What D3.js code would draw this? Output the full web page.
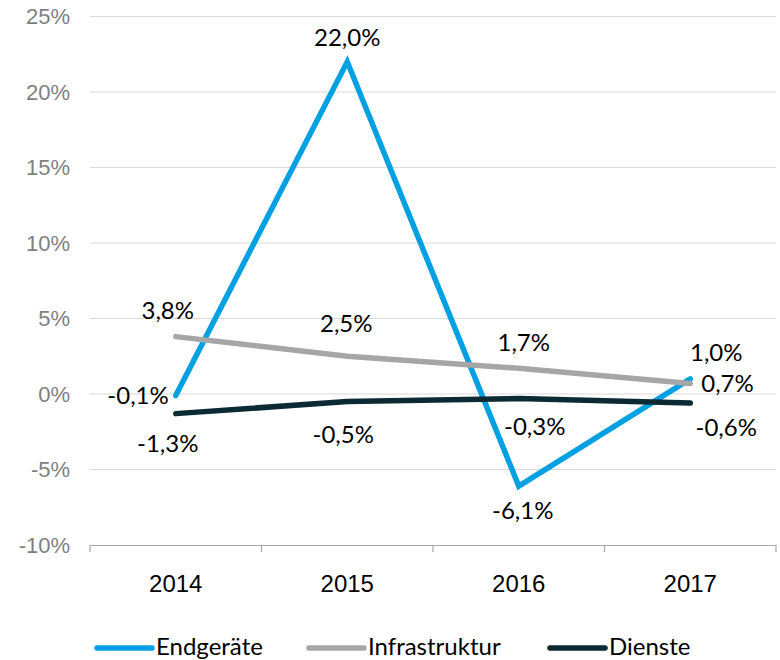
<!DOCTYPE html>
<html>
<head>
<meta charset="utf-8">
<script src="https://cdn.jsdelivr.net/npm/d3@7"></script>
<style>
  body { margin:0; background:#fff; }
  svg { display:block; font-family: Lato, "Open Sans", sans-serif; }
</style>
</head>
<body>
<div id="chart"></div>
<script>
// categories + series values (percent)
const years = ['2014','2015','2016','2017'];
const endgeraete = [-0.1, 22.0, -6.1, 1.0];
const infrastruktur = [3.8, 2.5, 1.7, 0.7];
const dienste = [-1.3, -0.5, -0.3, -0.6];
const yTicks = [-10, -5, 0, 5, 10, 15, 20, 25];

// label placement (dx, dy from point), kept apart from the values
const labelNudge = {
  Endgeraete: [[-7,0,'end'], [0,-24,'middle'], [4,24,'middle'], [26,-27,'middle']],
  Infrastruktur: [[-8,-26,'middle'], [-1,-33,'middle'], [5,-26,'middle'], [11,0,'start']],
  Dienste: [[-8,30,'middle'], [-4,33,'middle'], [16,28,'middle'], [36,24,'middle']]
};

const series = [
  {key:'Endgeraete', name:'Endgeräte', values:endgeraete, color:'#00a0e3'},
  {key:'Infrastruktur', name:'Infrastruktur', values:infrastruktur, color:'#a6a6a6'},
  {key:'Dienste', name:'Dienste', values:dienste, color:'#0b2a33'}
];

const W = 780, H = 660;
const m = {left:90, right:4, top:16.5, bottom:115};
const svg = d3.select('#chart').append('svg').attr('width',W).attr('height',H);

const x = d3.scaleBand().domain(years).range([m.left, W-m.right]);
const y = d3.scaleLinear().domain([-10,25]).range([H-m.bottom, m.top]);
// German decimal comma, plain hyphen as minus (like the original)
const fmt = v => v.toFixed(1).replace('.',',')+'%';

// gridlines
svg.append('g').selectAll('line').data(yTicks.filter(t=>t>-10)).enter().append('line')
  .attr('x1', m.left).attr('x2', W-m.right)
  .attr('y1', d=>y(d)).attr('y2', d=>y(d))
  .attr('stroke','#d9d9d9').attr('stroke-width',1.2);

// y axis labels
const yAxis = svg.append('g').attr('transform',`translate(${m.left},0)`)
  .call(d3.axisLeft(y).tickValues(yTicks).tickSize(0).tickPadding(20).tickFormat(d=>d+'%'));
yAxis.select('.domain').remove();
yAxis.selectAll('text').attr('fill','#7f7f7f').style('font-size','22px');

// x axis
const xAxis = svg.append('g').attr('transform',`translate(0,${y(-10)})`)
  .call(d3.axisBottom(x).tickSize(0).tickPadding(30));
xAxis.select('.domain').attr('stroke','#a6a6a6').attr('stroke-width',1.2);
xAxis.selectAll('text').attr('fill','#000').style('font-size','24px');
const bounds = years.map(d=>x(d)).concat([x(years[years.length-1])+x.bandwidth()]);
xAxis.selectAll('line.sep').data(bounds).enter().append('line').attr('class','sep')
  .attr('x1',d=>d).attr('x2',d=>d).attr('y1',0).attr('y2',7)
  .attr('stroke','#a6a6a6').attr('stroke-width',1.2);

const cx = d => x(d) + x.bandwidth()/2;
const line = d3.line().x((v,i)=>cx(years[i])).y(v=>y(v));

svg.append('g').selectAll('path').data(series).enter().append('path')
  .attr('d', s=>line(s.values))
  .attr('fill','none').attr('stroke', s=>s.color).attr('stroke-width',5.5)
  .attr('stroke-linecap','round').attr('stroke-linejoin','miter');

// data labels
series.forEach(s=>{
  svg.append('g').selectAll('text').data(s.values).enter().append('text')
    .attr('x', (v,i)=>cx(years[i]) + labelNudge[s.key][i][0])
    .attr('y', (v,i)=>y(v) + labelNudge[s.key][i][1])
    .attr('dy','0.36em')
    .attr('text-anchor', (v,i)=>labelNudge[s.key][i][2])
    .attr('fill','#000').style('font-size','24px')
    .text(v=>fmt(v));
});

// legend
const legX = [97, 309, 550];
const leg = svg.append('g').attr('transform','translate(0,648)');
series.forEach((s,i)=>{
  const g = leg.append('g').attr('transform',`translate(${legX[i]},0)`);
  g.append('line').attr('x1',0).attr('x2',55).attr('y1',0).attr('y2',0)
    .attr('stroke',s.color).attr('stroke-width',5.5).attr('stroke-linecap','round');
  g.append('text').attr('x',59).attr('y',7).attr('fill','#000').style('font-size','24px').text(s.name);
});
</script>
</body>
</html>
